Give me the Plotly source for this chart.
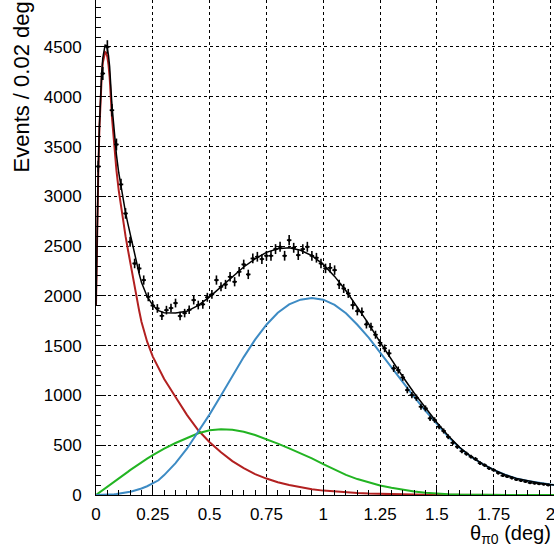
import numpy as np
import plotly.graph_objects as go

# ---------------- data ----------------
bin_width = 0.02
n_bins = 100
bin_centers = np.round(0.01 + bin_width * np.arange(n_bins), 3)

counts = [3300, 4234, 4501, 3865, 3521, 3120, 2828, 2543, 2326, 2276,
          2159, 1991, 1903, 1874, 1800, 1857, 1878, 1928, 1798, 1827,
          1860, 1958, 1908, 1915, 1986, 2015, 2159, 2092, 2115, 2192,
          2142, 2242, 2316, 2216, 2376, 2393, 2370, 2403, 2403, 2470,
          2493, 2403, 2560, 2483, 2410, 2470, 2493, 2403, 2383, 2326,
          2276, 2282, 2259, 2115, 2075, 2025, 1908, 1847, 1840, 1714,
          1690, 1610, 1529, 1473, 1423, 1272, 1255, 1181, 1054, 1004,
          977, 887, 870, 770, 753, 686, 643, 585, 525, 485,
          440, 415, 385, 362, 320, 300, 268, 250, 222, 195,
          185, 172, 155, 145, 135, 122, 118, 112, 108, 100]

curve_x = [0, 0.005, 0.01, 0.015, 0.02, 0.025, 0.03, 0.035, 0.04, 0.045,
           0.05, 0.055, 0.06, 0.07, 0.08, 0.09, 0.1, 0.11, 0.12, 0.13,
           0.14, 0.15, 0.16, 0.17, 0.18, 0.19, 0.2, 0.225, 0.25, 0.275,
           0.3, 0.35, 0.4, 0.45, 0.5, 0.55, 0.6, 0.65, 0.7, 0.75,
           0.8, 0.85, 0.9, 0.95, 1.0, 1.05, 1.1, 1.15, 1.2, 1.25,
           1.3, 1.35, 1.4, 1.45, 1.5, 1.55, 1.6, 1.65, 1.7, 1.75,
           1.8, 1.85, 1.9, 1.95, 2.0, 2.02]

red_curve = [1900, 2700, 3250, 3680, 3980, 4200, 4340, 4420, 4450, 4440,
             4400, 4320, 4200, 3800, 3500, 3260, 3060, 2890, 2740, 2600,
             2470, 2340, 2210, 2080, 1960, 1850, 1740, 1540, 1390, 1270,
             1165, 985, 805, 650, 530, 430, 340, 270, 210, 165,
             128, 100, 76, 58, 44, 34, 25, 19, 14, 10,
             8, 6, 4, 3, 2, 1, 1, 1, 0, 0,
             0, 0, 0, 0, 0, 0]

green_curve = [0, 8, 16, 25, 33, 41, 50, 58, 66, 74,
               82, 90, 99, 115, 132, 148, 165, 182, 198, 215,
               232, 250, 266, 282, 298, 314, 330, 366, 400, 433,
               465, 522, 575, 620, 650, 660, 655, 635, 602, 562,
               516, 468, 420, 368, 310, 252, 202, 160, 125, 96,
               72, 52, 36, 23, 14, 8, 4, 2, 1, 0,
               0, 0, 0, 0, 0, 0]

blue_curve = [0, 0, 0, 0, 0, 1, 1, 1, 2, 2,
              2, 3, 4, 5, 7, 9, 12, 15, 18, 22,
              27, 32, 38, 44, 51, 58, 66, 88, 115, 148,
              200, 320, 465, 635, 810, 1000, 1190, 1385, 1560, 1710,
              1830, 1915, 1962, 1978, 1962, 1910, 1825, 1710, 1580, 1430,
              1275, 1130, 985, 845, 712, 585, 475, 385, 312, 252,
              203, 167, 140, 120, 105, 100]

total_curve = [1900, 2708, 3266, 3705, 4013, 4242, 4391, 4479, 4518, 4516,
               4484, 4413, 4303, 3920, 3639, 3417, 3237, 3087, 2956, 2837,
               2729, 2622, 2514, 2406, 2309, 2222, 2136, 1994, 1905, 1851,
               1830, 1827, 1845, 1905, 1990, 2090, 2185, 2290, 2372, 2437,
               2474, 2483, 2458, 2404, 2316, 2196, 2052, 1889, 1719, 1536,
               1355, 1188, 1025, 871, 728, 594, 480, 387, 313, 252,
               203, 167, 140, 120, 105, 100]

x_tickvals = [0, 0.25, 0.5, 0.75, 1, 1.25, 1.5, 1.75, 2]
x_ticktext = ["0", "0.25", "0.5", "0.75", "1", "1.25", "1.5", "1.75", "2"]
y_tickvals = [0, 500, 1000, 1500, 2000, 2500, 3000, 3500, 4000, 4500]
y_ticktext = [str(v) for v in y_tickvals]

x_title = "θ<sub>π0</sub> (deg)"
y_title = "Events / 0.02 deg"

# ---------------- figure ----------------
FONT = "Liberation Sans, Arial, Helvetica, sans-serif"
RED = "#b22020"
GREEN = "#22b422"
BLUE = "#3d8bc4"

fig = go.Figure()

fig.add_trace(go.Scatter(x=curve_x, y=red_curve, mode="lines",
                         line=dict(color=RED, width=2), hoverinfo="skip"))
fig.add_trace(go.Scatter(x=curve_x, y=green_curve, mode="lines",
                         line=dict(color=GREEN, width=2), hoverinfo="skip"))
fig.add_trace(go.Scatter(x=curve_x, y=blue_curve, mode="lines",
                         line=dict(color=BLUE, width=2), hoverinfo="skip"))

fig.add_trace(go.Scatter(
    x=bin_centers, y=counts, mode="markers",
    marker=dict(color="black", size=3),
    error_y=dict(type="data", array=np.sqrt(np.array(counts, dtype=float)),
                 color="black", thickness=1.6, width=0),
    error_x=dict(type="constant", value=bin_width / 2,
                 color="black", thickness=1.6, width=0),
))

fig.add_trace(go.Scatter(x=curve_x, y=total_curve, mode="lines",
                         line=dict(color="black", width=1.5), hoverinfo="skip"))

W, H = 554, 552
ML, MR, MT, MB = 96, 0, 0, 57
pw, ph = W - ML - MR, H - MT - MB

fig.update_layout(
    width=W, height=H,
    margin=dict(l=ML, r=MR, t=MT, b=MB, pad=0, autoexpand=False),
    paper_bgcolor="white", plot_bgcolor="white",
    showlegend=False,
    font=dict(family=FONT, size=17, color="black"),
    xaxis=dict(
        range=[0, 2.0154], tickvals=x_tickvals, ticktext=x_ticktext,
        ticks="inside", ticklen=10, tickwidth=1, tickcolor="black",
        showline=True, linecolor="black", linewidth=1,
        showgrid=True, gridcolor="black", griddash="dot", gridwidth=1,
        zeroline=False, tickfont=dict(size=17, family=FONT),
        ticklabelstandoff=4, automargin=False, ticklabeloverflow="allow",
        minor=dict(dtick=0.05, tick0=0, ticks="inside", ticklen=5,
                   tickcolor="black", showgrid=False),
    ),
    yaxis=dict(
        range=[0, 4972], tickvals=y_tickvals, ticktext=y_ticktext,
        ticks="inside", ticklen=10, tickwidth=1, tickcolor="black",
        showline=True, linecolor="black", linewidth=1,
        showgrid=True, gridcolor="black", griddash="dot", gridwidth=1,
        zeroline=False, tickfont=dict(size=17, family=FONT),
        ticklabelstandoff=10, automargin=False,
        minor=dict(dtick=100, tick0=0, ticks="inside", ticklen=5,
                   tickcolor="black", showgrid=False),
    ),
    annotations=[
        dict(text=x_title, xref="paper", yref="paper",
             x=(553 - ML) / pw, y=-(534 - ph) / ph,
             xanchor="right", yanchor="middle", showarrow=False,
             font=dict(size=20, family=FONT, color="black")),
        dict(text=y_title, xref="paper", yref="paper",
             x=(21 - ML) / pw, y=(ph - 175) / ph,
             xanchor="center", yanchor="bottom", textangle=-90, showarrow=False,
             font=dict(size=22, family=FONT, color="black")),
    ],
)

fig.write_html(
    "out.html",
    config={"displayModeBar": False},
    post_script="document.body.style.margin='0';document.body.style.overflow='hidden';",
)
